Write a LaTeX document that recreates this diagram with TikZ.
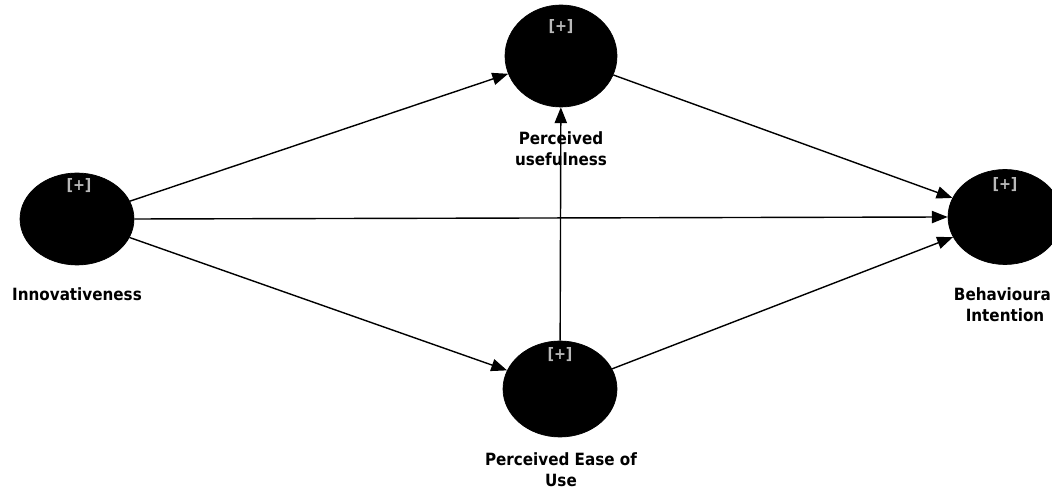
\documentclass[tikz,border=0pt]{standalone}
\usepackage{fontspec}
\setmainfont{DejaVu Sans Condensed}
\usetikzlibrary{shapes.geometric,arrows.meta}
\begin{document}
\begin{tikzpicture}[x=0.02cm,y=-0.02cm,
  latent/.style={ellipse,fill=black,draw=black,inner sep=0pt},
  plus/.style={text=gray!55,font=\fontsize{9}{10}\selectfont\bfseries},
  lbl/.style={font=\fontsize{9.6}{11.8}\selectfont\bfseries,align=center,inner sep=0pt},
  path/.style={draw=black,line width=0.8pt,-{Triangle[length=9pt,width=7pt]}}]
\useasboundingbox (0,0) rectangle (1052,492);
\node[latent,minimum width=2.28cm,minimum height=1.84cm] (inn) at (77,219) {};
\node[latent,minimum width=2.24cm,minimum height=2.04cm] (pu) at (561,56) {};
\node[latent,minimum width=2.28cm,minimum height=1.92cm] (peou) at (560,389) {};
\node[latent,minimum width=2.28cm,minimum height=1.90cm] (bi) at (1005,217) {};
\node[plus] (p1) at (79,186) {[+]};
\node[plus] (p2) at (561,27) {[+]};
\node[plus] (p3) at (560,355) {[+]};
\node[plus] (p4) at (1005,185) {[+]};
\node[lbl] (l1) at (77,294) {Innovativeness};
\node[lbl] (l2) at (561,149) {Perceived\\usefulness};
\node[lbl] (l3) at (561,470) {Perceived Ease of\\Use};
\node[lbl] (l4) at (1005,305) {Behavioural\\Intention};
\draw[path] (inn) -- (pu);
\draw[path] (inn.east) -- (bi.west);
\draw[path] (inn) -- (peou);
\draw[path] (peou) -- (pu);
\draw[path] (pu) -- (bi);
\draw[path] (peou) -- (bi);
\end{tikzpicture}
\end{document}
